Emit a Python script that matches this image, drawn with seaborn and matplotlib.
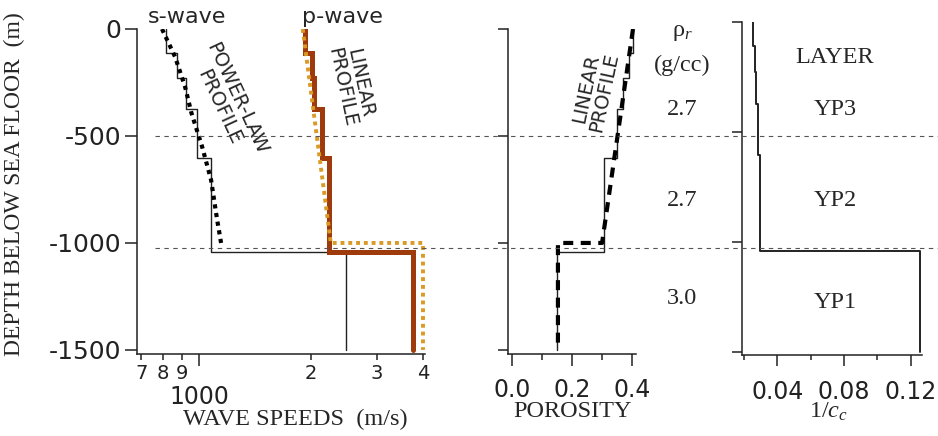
import numpy as np
import pandas as pd
import matplotlib
matplotlib.use('Agg')
import matplotlib.pyplot as plt
import seaborn as sns
from matplotlib.lines import Line2D
from matplotlib.ticker import FixedLocator, FixedFormatter
import matplotlib.transforms as mtransforms

# ---------------- data ----------------
layer_bounds = [0, -110, -228, -375, -605, -1042, -1500]
vs_layers = [815, 872, 923, 988, 1080, 2480]
vp_layers = [1930, 2010, 2040, 2140, 2235, 3760]
phi_layers = [0.403, 0.390, 0.370, 0.350, 0.307, 0.150]
inv_cc_layers = [0.0255, 0.0264, 0.0274, 0.0283, 0.0294, 0.1256]

vs_power_depth = [0, -130, -270, -390, -550, -705, -890, -1000]
vs_power = [795, 862, 917, 953, 1019, 1077, 1118, 1146]
vp_linear_depth = [0, -1000, -1000, -1500]
vp_linear = [1900, 2260, 4000, 4000]
phi_linear_depth = [0, -1000, -1000, -1500]
phi_linear = [0.403, 0.300, 0.153, 0.153]

ref_depths = [-500, -1025]
rho_labels = ['2.7', '2.7', '3.0']
layer_names = ['YP3', 'YP2', 'YP1']
depth_ticks = [0, -500, -1000, -1500]
speed_major_ticks = [1000]
speed_major_labels = ['1000']
speed_minor_ticks = [700, 800, 900, 2000, 3000, 4000]
speed_minor_labels = ['7', '8', '9', '2', '3', '4']
phi_major_ticks = [0.0, 0.2, 0.4]
phi_minor_ticks = [0.1, 0.3]
cc_major_ticks = [0.04, 0.08, 0.12]
cc_minor_ticks = [0.02, 0.06, 0.10]

# ---------------- style ----------------
sns.set_style('ticks')
plt.rcParams['font.family'] = ['DejaVu Sans']
plt.rcParams['axes.unicode_minus'] = False
plt.rcParams['mathtext.fontset'] = 'custom'
plt.rcParams['mathtext.rm'] = 'Liberation Serif'
plt.rcParams['mathtext.it'] = 'Liberation Serif:italic'
plt.rcParams['axes.linewidth'] = 1.1
plt.rcParams['xtick.major.width'] = 1.1
plt.rcParams['ytick.major.width'] = 1.1
plt.rcParams['xtick.minor.width'] = 1.1
plt.rcParams['xtick.color'] = '#222222'
plt.rcParams['ytick.color'] = '#222222'

SERIF = 'Liberation Serif'
SERIF_SIZE = 17.5
W, H = 938, 436
fig = plt.figure(figsize=(W / 100, H / 100), dpi=100)
fig.patch.set_facecolor('white')


def box(l, r, t, b):
    return [l / W, (H - b) / H, (r - l) / W, (b - t) / H]


def steps(bounds, vals):
    xs, ys = [], []
    for i, v in enumerate(vals):
        xs += [v, v]
        ys += [bounds[i], bounds[i + 1]]
    return pd.DataFrame({'x': xs, 'y': ys})


def line(ax, x, y, **kw):
    df = pd.DataFrame({'x': x, 'y': y})
    sns.lineplot(data=df, x='x', y='y', sort=False, estimator=None, ax=ax, **kw)


ax1 = fig.add_axes(box(137, 425, 29, 354))
ax2 = fig.add_axes(box(508, 636, 29, 354))
ax3 = fig.add_axes(box(742, 922, 22, 355))

for ax in (ax1, ax2, ax3):
    ax.set_facecolor('none')
    for s in ('top', 'right'):
        ax.spines[s].set_visible(False)
    ax.spines['left'].set_color('#222222')
    ax.spines['bottom'].set_color('#222222')

# ---- panel 1: wave speeds ----
ax1.set_xscale('log')
s_df = steps(layer_bounds, vs_layers)
p_df = steps(layer_bounds, vp_layers)
line(ax1, s_df['x'], s_df['y'], color='#222222', lw=1.0)
line(ax1, vs_power, vs_power_depth, color='black', lw=3.0,
     linestyle=(0, (1, 1.1)))
line(ax1, p_df['x'], p_df['y'], color='#9E3A0C', lw=3.6,
     solid_joinstyle='miter')
line(ax1, vp_linear, vp_linear_depth, color='#D99A26', lw=2.8,
     linestyle=(0, (1, 1)))
ax1.set_xlim(681, 4050)
ax1.set_ylim(-1519, 0)
ax1.xaxis.set_major_locator(FixedLocator(speed_major_ticks))
ax1.xaxis.set_major_formatter(FixedFormatter(speed_major_labels))
ax1.xaxis.set_minor_locator(FixedLocator(speed_minor_ticks))
ax1.xaxis.set_minor_formatter(FixedFormatter(speed_minor_labels))
ax1.tick_params(axis='x', which='major', length=8.5, pad=14, labelsize=17)
ax1.tick_params(axis='x', which='minor', length=4.5, pad=3, labelsize=14)
ax1.set_yticks(depth_ticks)
ax1.set_yticklabels([str(d) for d in depth_ticks])
ax1.tick_params(axis='y', length=8.5, pad=3, labelsize=18)
ax1.set_xlabel('')
ax1.set_ylabel('')
fig.text(14 / W, 1 - 184 / H, 'DEPTH BELOW SEA FLOOR  (m)', family=SERIF,
         fontsize=17, rotation=90, ha='center', va='center')
ax1.text(0.549, -0.2, 'WAVE SPEEDS  (m/s)', transform=ax1.transAxes,
         family=SERIF, fontsize=SERIF_SIZE, ha='center', va='center')
ax1.text(0.174, 1.037, 's-wave', transform=ax1.transAxes, fontsize=16,
         ha='center', va='center')
ax1.text(0.712, 1.037, 'p-wave', transform=ax1.transAxes, fontsize=16,
         ha='center', va='center')
ax1.text(0.316, 0.772, 'POWER-LAW\nPROFILE', transform=ax1.transAxes,
         fontsize=14, ha='center', va='center', rotation=-65,
         rotation_mode='anchor', linespacing=1.0)
ax1.text(0.742, 0.827, 'LINEAR\nPROFILE', transform=ax1.transAxes,
         fontsize=14, ha='center', va='center', rotation=-78,
         rotation_mode='anchor', linespacing=1.0)

# ---- panel 2: porosity ----
phi_df = steps(layer_bounds, phi_layers)
line(ax2, phi_df['x'], phi_df['y'], color='#222222', lw=1.0)
line(ax2, phi_linear, phi_linear_depth, color='black', lw=3.0,
     linestyle=(0, (2.4, 1.8)))
ax2.set_xlim(-0.0133, 0.413)
ax2.set_ylim(-1519, 0)
ax2.set_xticks(phi_major_ticks)
ax2.set_xticklabels(['%.1f' % t for t in phi_major_ticks])
ax2.xaxis.set_minor_locator(FixedLocator(phi_minor_ticks))
ax2.tick_params(axis='x', which='major', length=8.5, pad=9, labelsize=17)
ax2.tick_params(axis='x', which='minor', length=4.5)
ax2.set_yticks(depth_ticks)
ax2.set_yticklabels([])
ax2.tick_params(axis='y', length=7.5)
ax2.set_xlabel('')
ax2.set_ylabel('')
ax2.text(0.508, -0.178, 'POROSITY', transform=ax2.transAxes, family=SERIF,
         fontsize=SERIF_SIZE, ha='center', va='center')
ax2.text(0.68, 0.812, 'LINEAR\nPROFILE', transform=ax2.transAxes,
         fontsize=14, ha='center', va='center', rotation=78,
         rotation_mode='anchor', linespacing=1.0)

# ---- panel 3: 1/c_c ----
cc_df = steps(layer_bounds, inv_cc_layers)
line(ax3, cc_df['x'], cc_df['y'], color='#222222', lw=1.4)
ax3.set_xlim(0.0188, 0.1268)
ax3.set_ylim(-1514, 0)
ax3.set_xticks(cc_major_ticks)
ax3.set_xticklabels(['%.2f' % t for t in cc_major_ticks])
ax3.xaxis.set_minor_locator(FixedLocator(cc_minor_ticks))
ax3.tick_params(axis='x', which='major', length=8, pad=10, labelsize=17)
ax3.tick_params(axis='x', which='minor', length=3.5)
ax3.set_yticks(depth_ticks)
ax3.set_yticklabels([])
ax3.tick_params(axis='y', length=7.5)
ax3.set_xlabel('')
ax3.set_ylabel('')
ax3.text(0.478, -0.172, '1/$c_c$', transform=ax3.transAxes, family=SERIF,
         fontsize=SERIF_SIZE, ha='center', va='center')
ax3.text(-0.333, 0.967, 'ρ$_r$', transform=ax3.transAxes, family=SERIF,
         fontsize=SERIF_SIZE, ha='center', va='center')
ax3.text(-0.333, 0.871, '(g/cc)', transform=ax3.transAxes, family=SERIF,
         fontsize=SERIF_SIZE, ha='center', va='center')
ax3.text(0.517, 0.892, 'LAYER', transform=ax3.transAxes, family=SERIF,
         fontsize=SERIF_SIZE, ha='center', va='center')
rho_y = [0.736, 0.465, 0.171]
name_y = [0.736, 0.465, 0.159]
for lab, yy in zip(rho_labels, rho_y):
    ax3.text(-0.333, yy, lab, transform=ax3.transAxes, family=SERIF,
             fontsize=SERIF_SIZE, ha='center', va='center')
for lab, yy in zip(layer_names, name_y):
    ax3.text(0.517, yy, lab, transform=ax3.transAxes, family=SERIF,
             fontsize=SERIF_SIZE, ha='center', va='center')

# ---- reference depth lines across the figure ----
trans = mtransforms.blended_transform_factory(fig.transFigure, ax1.transData)
for d in ref_depths:
    fig.add_artist(Line2D([155 / W, 1.0], [d, d], transform=trans,
                          color='#555555', lw=0.8, linestyle=(0, (4, 4))))

fig.savefig('out.png', dpi=100, facecolor='white')
